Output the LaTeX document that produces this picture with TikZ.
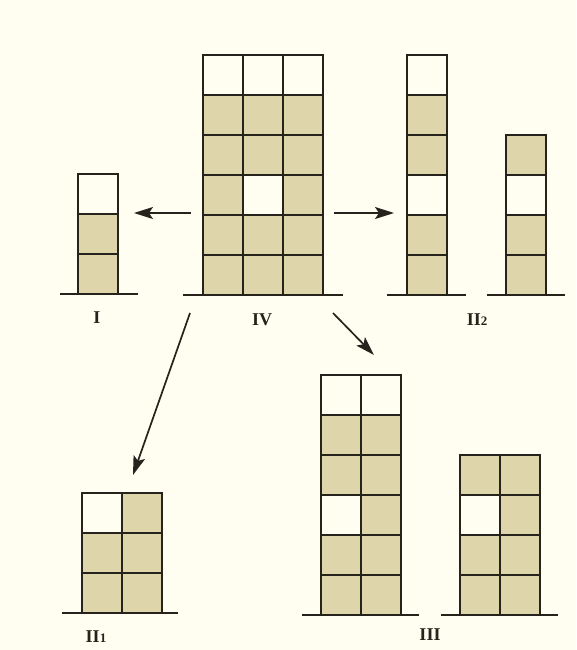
\documentclass[tikz,border=0pt]{standalone}
\usepackage{fontspec}
\setmainfont{Liberation Serif}
\usetikzlibrary{arrows.meta}
\definecolor{bg}{RGB}{255,254,241}
\definecolor{tanfill}{RGB}{222,214,170}
\definecolor{ink}{RGB}{38,34,28}
\tikzset{
  cell/.style={draw=ink, line width=2pt},
  ground/.style={draw=ink, line width=1.9pt},
  arrowline/.style={draw=ink, line width=1.7pt, -{Stealth[length=19pt,width=12pt,inset=4pt]}},
  numeral/.style={font=\bfseries\fontsize{18}{18}\selectfont, text=ink, inner sep=0pt}
}
\newcommand\cellat[3]{\filldraw[cell, fill=#3] (#1,#2) rectangle ++(40,40);}
% x0, ytop, last col index, last row index
\newcommand\blockstack[4]{%
  \foreach \c in {0,...,#3}{\foreach \r in {0,...,#4}{\cellat{#1+40*\c}{#2+40*\r}{tanfill}}}}
\begin{document}
\begin{tikzpicture}[x=1pt,y=-1pt]
\fill[bg] (0,0) rectangle (576,650);
\useasboundingbox (0,0) rectangle (576,650);

% ---- IV ----
\blockstack{203}{55}{2}{5}
\cellat{203}{55}{bg}\cellat{243}{55}{bg}\cellat{283}{55}{bg}
\cellat{243}{175}{bg}
\draw[ground] (183,295) -- (343,295);
\node[numeral] (labIV) at (262,320) {IV};

% ---- I ----
\blockstack{78}{174}{0}{2}
\cellat{78}{174}{bg}
\draw[ground] (60,294) -- (138,294);
\node[numeral] (labI) at (97,318) {I};

% ---- II2 ----
\blockstack{407}{55}{0}{5}
\cellat{407}{55}{bg}\cellat{407}{175}{bg}
\blockstack{506}{135}{0}{3}
\cellat{506}{175}{bg}
\draw[ground] (387,295) -- (466,295);
\draw[ground] (487,295) -- (565,295);
\node[numeral] (labIIb) at (477,320) {II{\fontsize{13}{13}\selectfont 2}};

% ---- II1 ----
\blockstack{82}{493}{1}{2}
\cellat{82}{493}{bg}
\draw[ground] (62,613) -- (178,613);
\node[numeral] (labIIa) at (96,637) {II{\fontsize{13}{13}\selectfont 1}};

% ---- III ----
\blockstack{321}{375}{1}{5}
\cellat{321}{375}{bg}\cellat{361}{375}{bg}
\cellat{321}{495}{bg}
\blockstack{460}{455}{1}{3}
\cellat{460}{495}{bg}
\draw[ground] (302,615) -- (419,615);
\draw[ground] (441,615) -- (558,615);
\node[numeral] (labIII) at (430,635) {III};

% ---- arrows ----
\coordinate (aIs) at (191,213);
\coordinate (aIe) at (134,213);
\coordinate (aIIs) at (334,213);
\coordinate (aIIe) at (394,213);
\coordinate (bIs) at (190,313);
\coordinate (bIe) at (133,475);
\coordinate (bIIIs) at (333,313);
\coordinate (bIIIe) at (374,355);
\draw[arrowline] (aIs) -- (aIe);
\draw[arrowline] (aIIs) -- (aIIe);
\draw[arrowline] (bIs) -- (bIe);
\draw[arrowline] (bIIIs) -- (bIIIe);
\end{tikzpicture}
\end{document}
